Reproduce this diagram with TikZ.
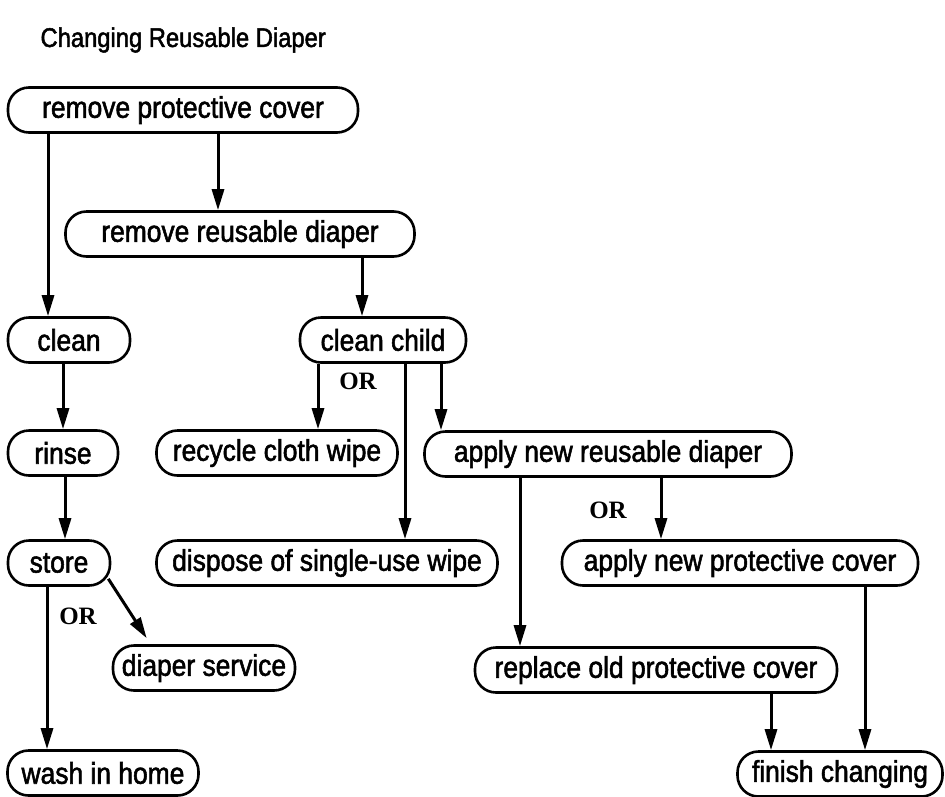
\documentclass[tikz,border=0pt]{standalone}
\usepackage{fontspec}
\setmainfont[FakeStretch=0.88, FakeBold=1.8]{Liberation Sans}
\newfontfamily\orfont{Liberation Serif}
\usetikzlibrary{arrows.meta}
\begin{document}
\begin{tikzpicture}[x=1pt, y=-1pt,
	task/.style = {draw, line width=2.6pt, rounded corners=21pt, minimum height=45pt, inner sep=0pt, font=\fontsize{30}{34}\selectfont},
	arr/.style = {line width=3pt, -{Triangle[length=21pt, width=12pt]}},
	orlabel/.style = {font=\orfont\bfseries\fontsize{25}{29}\selectfont}]
	\useasboundingbox (0,0) rectangle (945,796);
	\node [anchor=west, font=\fontsize{27}{31}\selectfont] (title) at (37,40) {Changing Reusable Diaper};
	\node [task, minimum width=350pt] (rpc) at (183,110) {remove protective cover};
	\node [task, minimum width=349pt] (rrd) at (240,234) {remove reusable diaper};
	\node [task, minimum width=122pt] (clean) at (69,340) {clean};
	\node [task, minimum width=166pt] (cchild) at (383,340) {clean child};
	\node [task, minimum width=110pt] (rinse) at (63,453) {rinse};
	\node [task, minimum width=241pt] (recycle) at (277,453) {recycle cloth wipe};
	\node [task, minimum width=367pt] (ardiaper) at (608,454) {apply new reusable diaper};
	\node [task, minimum width=102pt] (store) at (59,563) {store};
	\node [task, minimum width=341pt] (dispose) at (327,563) {dispose of single-use wipe};
	\node [task, minimum width=356pt] (apcover) at (740,563) {apply new protective cover};
	\node [task, minimum width=182pt] (dsvc) at (204,668) {diaper service};
	\node [task, minimum width=362pt] (rocover) at (656,670) {replace old protective cover};
	\node [task, minimum width=191pt] (wash) at (103,773) {wash in home};
	\node [task, minimum width=205pt] (finish) at (840,774) {finish changing};
	\node [orlabel] (or1) at (358,381) {OR};
	\node [orlabel] (or2) at (608,510) {OR};
	\node [orlabel] (or3) at (78,616) {OR};
	\draw [arr] (rpc.south -| 48,0) -- (clean.north -| 48,0);
	\draw [arr] (rpc.south -| 218,0) -- (rrd.north -| 218,0);
	\draw [arr] (rrd.south -| 362,0) -- (cchild.north -| 362,0);
	\draw [arr] (clean.south -| 63,0) -- (rinse.north -| 63,0);
	\draw [arr] (rinse.south -| 65,0) -- (store.north -| 65,0);
	\draw [arr] (store.south -| 47,0) -- (wash.north -| 47,0);
	\draw [arr] ([xshift=-3pt, yshift=8pt]store.south east) -- ([xshift=35pt, yshift=6pt]dsvc.north west);
	\draw [arr] (cchild.south -| 318,0) -- (recycle.north -| 318,0);
	\draw [arr] (cchild.south -| 405,0) -- (dispose.north -| 405,0);
	\draw [arr] (cchild.south -| 441,0) -- (ardiaper.north -| 441,0);
	\draw [arr] (ardiaper.south -| 520,0) -- (rocover.north -| 520,0);
	\draw [arr] (ardiaper.south -| 661,0) -- (apcover.north -| 661,0);
	\draw [arr] (rocover.south -| 771,0) -- (finish.north -| 771,0);
	\draw [arr] (apcover.south -| 865,0) -- (finish.north -| 865,0);
\end{tikzpicture}
\end{document}
